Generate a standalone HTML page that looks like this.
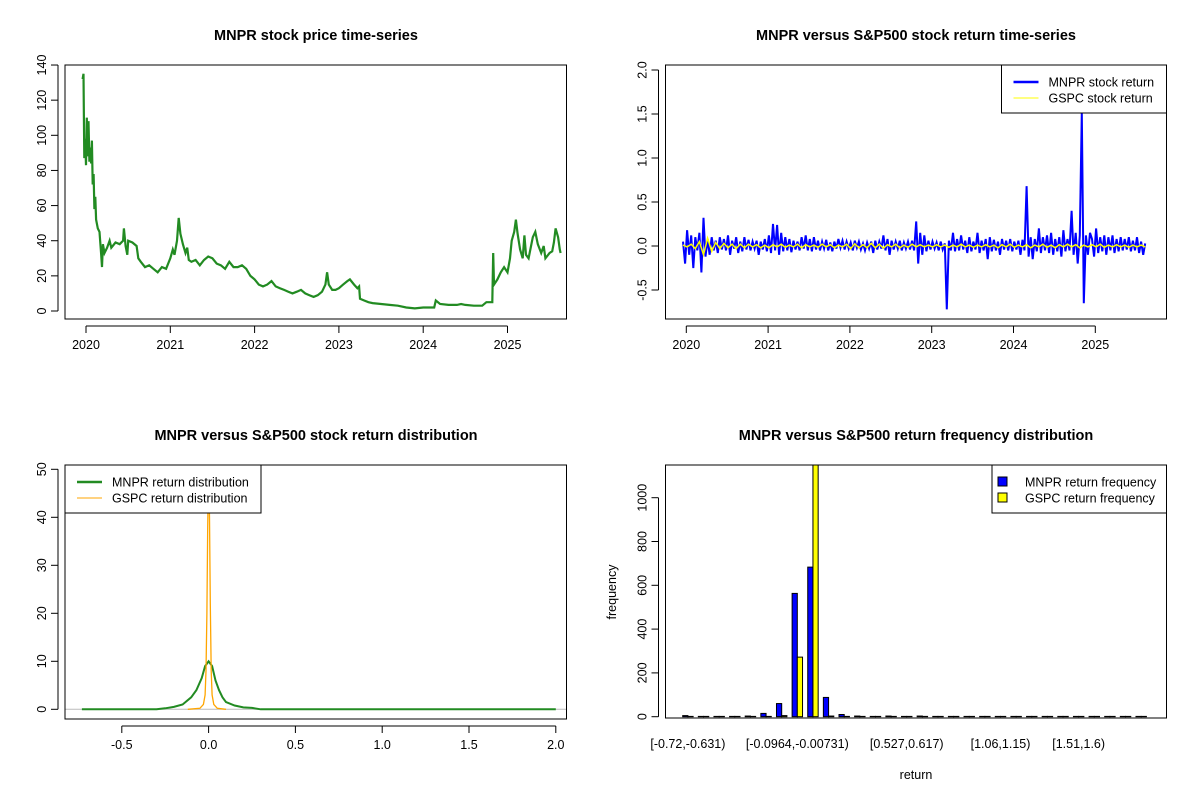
<!DOCTYPE html>
<html><head><meta charset="utf-8"><style>
html,body{margin:0;padding:0;background:#fff;}
svg{display:block;font-family:"Liberation Sans",Arial,sans-serif;}
</style></head><body>
<svg id="chart" width="1200" height="800" viewBox="0 0 1200 800">
<defs>
<clipPath id="c1"><rect x="65" y="65" width="501.5" height="254"/></clipPath>
<clipPath id="c2"><rect x="665.5" y="65" width="501" height="254"/></clipPath>
<clipPath id="c3"><rect x="65" y="465" width="501.5" height="254"/></clipPath>
<clipPath id="c4"><rect x="665.5" y="465" width="501" height="253"/></clipPath>
</defs>
</svg>
<script>
// ---------- DATA ----------
const priceT=[2019.96,2019.97,2019.975,2019.98,2019.99,2020.0,2020.01,2020.02,2020.03,2020.04,2020.05,2020.06,2020.07,2020.08,2020.09,2020.10,2020.11,2020.12,2020.14,2020.16,2020.18,2020.19,2020.20,2020.22,2020.25,2020.28,2020.30,2020.35,2020.40,2020.44,2020.45,2020.47,2020.49,2020.5,2020.55,2020.6,2020.62,2020.65,2020.7,2020.75,2020.8,2020.85,2020.9,2020.95,2021.0,2021.03,2021.05,2021.08,2021.1,2021.12,2021.15,2021.18,2021.2,2021.22,2021.25,2021.3,2021.35,2021.4,2021.45,2021.5,2021.55,2021.6,2021.65,2021.7,2021.75,2021.8,2021.85,2021.9,2021.95,2022.0,2022.05,2022.1,2022.15,2022.2,2022.25,2022.3,2022.35,2022.4,2022.45,2022.5,2022.55,2022.6,2022.65,2022.7,2022.75,2022.8,2022.84,2022.86,2022.88,2022.92,2022.96,2023.0,2023.05,2023.1,2023.13,2023.18,2023.22,2023.24,2023.25,2023.3,2023.35,2023.4,2023.5,2023.6,2023.7,2023.8,2023.9,2024.0,2024.1,2024.13,2024.15,2024.2,2024.3,2024.4,2024.45,2024.5,2024.6,2024.7,2024.75,2024.8,2024.82,2024.83,2024.84,2024.88,2024.92,2024.96,2025.0,2025.03,2025.05,2025.08,2025.1,2025.12,2025.15,2025.18,2025.2,2025.22,2025.25,2025.3,2025.33,2025.36,2025.4,2025.43,2025.45,2025.5,2025.53,2025.55,2025.57,2025.6,2025.62,2025.63];
const priceV=[132,135,110,87,98,83,110,88,108,85,93,84,97,72,78,58,65,52,47,45,32,25,38,33,36,40,36,39,38,40,47,37,32,40,39,37,30,28,25,26,24,22,25,24,30,35,32,40,53,44,38,33,36,29,28,29,26,29,31,30,27,26,24,28,25,25,26,24,20,18,15,14,15,17,14,13,12,11,10,11,12,10,9,8,9,11,15,22,15,12,12,13,15,17,18,15,13,14,7,6,5,4.5,4,3.5,3,2,1.5,2,2,2,6,4,3.5,3.5,4,3.5,3,3,5,5,5,33,15,18,22,25,22,30,40,45,52,44,35,30,43,32,30,42,45,38,33,37,30,33,34,39,47,42,35,33];
const yearTicks=[2020,2021,2022,2023,2024,2025];
const priceTicks=[0,20,40,60,80,100,120,140];

const retStart=2019.96, retStep=0.025;
const mnprRet=[0.05,-0.2,0.18,-0.1,0.12,-0.25,0.1,-0.05,0.15,-0.3,0.32,-0.12,0.08,-0.1,0.1,-0.05,0.06,-0.08,0.1,-0.04,
0.08,-0.05,0.12,-0.1,0.06,-0.03,0.1,-0.08,0.05,-0.06,0.1,-0.04,0.07,-0.05,0.05,-0.03,0.06,-0.1,0.05,-0.04,
0.08,-0.06,0.12,-0.08,0.25,-0.05,0.24,-0.1,0.15,-0.06,0.1,-0.05,0.08,-0.07,0.06,-0.04,0.05,-0.05,0.1,-0.03,
0.12,-0.05,0.08,-0.06,0.1,-0.04,0.06,-0.05,0.05,-0.03,0.07,-0.05,0.04,-0.06,0.05,-0.03,0.08,-0.02,0.06,-0.04,
0.05,-0.03,0.04,-0.05,0.06,-0.02,0.05,-0.04,0.03,-0.05,0.04,-0.03,0.05,-0.08,0.06,-0.04,0.05,-0.03,0.12,-0.05,
0.08,-0.1,0.06,-0.04,0.05,-0.03,0.06,-0.05,0.04,-0.03,0.05,-0.04,0.06,-0.05,0.28,-0.2,0.15,-0.1,0.12,-0.06,
0.06,-0.04,0.05,-0.03,0.04,-0.05,0.05,-0.04,0.03,-0.72,0.06,-0.05,0.15,-0.06,0.08,-0.05,0.12,-0.04,0.06,-0.08,
0.1,-0.06,0.05,-0.04,0.15,-0.08,0.06,-0.05,0.08,-0.15,0.1,-0.06,0.07,-0.05,0.05,-0.1,0.08,-0.04,0.06,-0.05,
0.08,-0.06,0.05,-0.04,0.06,-0.1,0.07,-0.05,0.68,-0.12,0.1,-0.15,0.08,-0.06,0.2,-0.08,0.1,-0.05,0.12,-0.08,
0.15,-0.1,0.08,-0.06,0.1,-0.12,0.18,-0.06,0.08,-0.05,0.4,-0.1,0.15,-0.2,0.12,1.52,-0.65,0.12,-0.1,0.15,
0.08,-0.12,0.2,-0.08,0.1,-0.06,0.12,-0.1,0.1,-0.05,0.12,-0.08,0.08,-0.06,0.1,-0.05,0.08,-0.04,0.1,-0.06,
0.06,-0.05,0.1,-0.08,0.05,-0.1,0.03];
const gspcStep=0.05;
const gspcRet=[0.01,-0.01,0.02,-0.03,0.05,-0.1,0.09,-0.06,0.04,-0.03,0.03,-0.02,0.02,-0.03,0.02,-0.02,0.02,-0.01,0.015,-0.02,
0.01,-0.02,0.015,-0.01,0.02,-0.015,0.01,-0.01,0.02,-0.02,0.015,-0.01,0.01,-0.015,0.02,-0.01,0.015,-0.02,0.01,-0.01,
0.02,-0.03,0.025,-0.02,0.015,-0.02,0.03,-0.02,0.02,-0.025,0.015,-0.01,0.02,-0.02,0.01,-0.015,0.02,-0.01,0.015,-0.01,
0.01,-0.01,0.015,-0.01,0.01,-0.015,0.01,-0.01,0.02,-0.01,0.01,-0.015,0.01,-0.01,0.015,-0.01,0.01,-0.02,0.015,-0.01,
0.02,-0.015,0.01,-0.01,0.015,-0.02,0.01,-0.01,0.02,-0.015,0.01,-0.02,0.015,-0.01,0.02,-0.01,0.015,-0.02,0.01,-0.01,
0.015,-0.01,0.02,-0.015,0.01,-0.01,0.015,-0.01,0.01,-0.015,0.01,-0.01,0.01,-0.01];
const retTicks=[-0.5,0,0.5,1,1.5,2];
const retTickLabels=["-0.5","0.0","0.5","1.0","1.5","2.0"];

const densMx=[-0.73,-0.3,-0.25,-0.2,-0.15,-0.1,-0.07,-0.04,-0.02,0,0.02,0.04,0.06,0.08,0.1,0.15,0.2,0.25,0.3,2.0];
const densMy=[0,0,0.2,0.5,1,2.5,4,6.5,9,10,9,6,4,2.5,1.5,0.8,0.4,0.3,0,0];
const densGx=[-0.12,-0.05,-0.03,-0.02,-0.015,-0.01,-0.005,0,0.005,0.01,0.015,0.02,0.03,0.05,0.1];
const densGy=[0,0.2,1,3,8,20,38,50,40,22,8,3,1,0.2,0];
const densXTicks=[-0.5,0,0.5,1,1.5,2];
const densXLabels=["-0.5","0.0","0.5","1.0","1.5","2.0"];
const densYTicks=[0,10,20,30,40,50];

const binCount=30;
const mnprFreq=[5,0,0,0,3,15,60,563,683,88,10,3,0,3,0,3,0,0,0,0,0,0,0,0,0,0,0,0,0,0];
const gspcFreq=[0,0,0,0,0,0,5,272,1160,3,0,0,0,0,0,0,0,0,0,0,0,0,0,0,0,0,0,0,0,0];
const binLabelIdx=[0,7,14,20,25];
const binLabels=["[-0.72,-0.631)","[-0.0964,-0.00731)","[0.527,0.617)","[1.06,1.15)","[1.51,1.6)"];
const freqTicks=[0,200,400,600,800,1000];

// ---------- AXIS FUNCTIONS ----------
const x1=t=>86+(t-2020)*84.3, y1=v=>311-v*1.757;
const x2=t=>686.3+(t-2020)*81.8, y2=v=>246-v*88;
const x3=v=>208.6+v*173.6, y3=d=>709.3-d*4.8;
const xb=v=>682.7+v*5.21, y4=c=>716.7-c*0.219;

const svg=document.getElementById('chart');
const NS='http://www.w3.org/2000/svg';
function mk(tag,attrs,parent){const e=document.createElementNS(NS,tag);for(const k in attrs)e.setAttribute(k,attrs[k]);(parent||svg).appendChild(e);return e;}
function txt(x,y,s,size,opts,parent){const e=mk('text',Object.assign({x:x,y:y,'font-size':size,'text-anchor':'middle',fill:'#000'},opts||{}),parent);e.textContent=s;return e;}

const boxes=[[65,65,566.5,319],[665.5,65,1166.5,319],[65,465,566.5,719],[665.5,465,1166.5,718]];
const titles=["MNPR stock price time-series","MNPR versus S&P500 stock return time-series","MNPR versus S&P500 stock return distribution","MNPR versus S&P500 return frequency distribution"];
const titleX=[316,916,316,916], titleY=[40,40,440,440];
for(let i=0;i<4;i++){
 let t=txt(titleX[i],titleY[i],titles[i],14.5,{'font-weight':'bold'});
 
 
}
function xAxis(ticks,labels,fx,bottom,left,right,name){
 const g=mk('g',{});
 
 
 const a=fx(ticks[0]),b=fx(ticks[ticks.length-1]);
 mk('line',{x1:a,y1:bottom+7,x2:b,y2:bottom+7,stroke:'#000','stroke-width':1},g);
 ticks.forEach((v,i)=>{const x=fx(v);mk('line',{x1:x,y1:bottom+7,x2:x,y2:bottom+14,stroke:'#000'},g);
  const l=txt(x,bottom+30,labels[i],12.5,{},g);
  
  });
}
function yAxis(ticks,labels,fy,left,name){
 const g=mk('g',{});
 
 
 const a=fy(ticks[0]),b=fy(ticks[ticks.length-1]);
 mk('line',{x1:left-7,y1:a,x2:left-7,y2:b,stroke:'#000'},g);
 ticks.forEach((v,i)=>{const y=fy(v);mk('line',{x1:left-14,y1:y,x2:left-7,y2:y,stroke:'#000'},g);
  const l=txt(left-19,y,labels[i],12.5,{transform:'rotate(-90 '+(left-19)+' '+y+')'},g);
  
  });
}
function pts(xs,ys,fx,fy){return xs.map((x,i)=>fx(x).toFixed(1)+','+fy(ys[i]).toFixed(1)).join(' ');}

// ---------- Panel 1 ----------
let p=mk('polyline',{points:pts(priceT,priceV,x1,y1),fill:'none',stroke:'#228B22','stroke-width':2.2,'clip-path':'url(#c1)'});


xAxis(yearTicks,yearTicks.map(String),x1,319,65,566,'panel-1-x-axis');
yAxis(priceTicks,priceTicks.map(String),y1,65,'panel-1-y-axis');

// ---------- Panel 2 ----------
const mT=mnprRet.map((v,i)=>retStart+i*retStep);
p=mk('polyline',{points:pts(mT,mnprRet,x2,y2),fill:'none',stroke:'#0000FF','stroke-width':2,'clip-path':'url(#c2)'});


const gT=gspcRet.map((v,i)=>retStart+i*gspcStep);
p=mk('polyline',{points:pts(gT,gspcRet,x2,y2),fill:'none',stroke:'#FFFF00','stroke-width':1.5,'clip-path':'url(#c2)'});


xAxis(yearTicks,yearTicks.map(String),x2,319,665,1166,'panel-2-x-axis');
yAxis(retTicks,retTickLabels,y2,665.5,'panel-2-y-axis');

// ---------- Panel 3 ----------
p=mk('line',{x1:65,y1:y3(0),x2:566.5,y2:y3(0),stroke:'#bbbbbb','stroke-width':1});


p=mk('polyline',{points:pts(densMx,densMy,x3,y3),fill:'none',stroke:'#228B22','stroke-width':2,'clip-path':'url(#c3)'});


p=mk('polyline',{points:pts(densGx,densGy,x3,y3),fill:'none',stroke:'#FFA500','stroke-width':1.3,'clip-path':'url(#c3)'});


xAxis(densXTicks,densXLabels,x3,719,65,566,'panel-3-x-axis');
yAxis(densYTicks,densYTicks.map(String),y3,65,'panel-3-y-axis');

// ---------- Panel 4 ----------
for(let i=0;i<binCount;i++){
 const hm=Math.max(y4(0)-y4(mnprFreq[i]),0.3), hg=Math.max(y4(0)-y4(gspcFreq[i]),0.3);
 let r=mk('rect',{x:xb(3*i),y:y4(0)-hm,width:xb(1)-xb(0),height:hm,fill:'#0000FF',stroke:'#000','stroke-width':1,'clip-path':'url(#c4)'});
 
 
 r=mk('rect',{x:xb(3*i+1),y:y4(0)-hg,width:xb(1)-xb(0),height:hg,fill:'#FFFF00',stroke:'#000','stroke-width':1,'clip-path':'url(#c4)'});
 
 
}
binLabelIdx.forEach((b,i)=>{const l=txt(xb(3*b+1),748,binLabels[i],12.5);
 
 });
yAxis(freqTicks,freqTicks.map(String),y4,665.5,'panel-4-y-axis');
let t=txt(916,779,'return',12.5);


t=txt(616,592,'frequency',12.5,{transform:'rotate(-90 616 592)'});



// ---------- legends ----------
function legend(x,y,w,h,items,name){
 const g=mk('g',{});
 
 
 mk('rect',{x:x,y:y,width:w,height:h,fill:'#fff',stroke:'#000'},g);
 items.forEach((it,i)=>{const cy=y+17+i*16;
  if(it.sq){mk('rect',{x:x+6,y:cy-5,width:9,height:9,fill:it.c,stroke:'#000'},g);}
  else mk('line',{x1:x+12,y1:cy,x2:x+37,y2:cy,stroke:it.c,'stroke-width':it.w},g);
  const l=txt(x+(it.sq?33:47),cy+4.5,it.s,12.5,{'text-anchor':'start'},g);
  
  });
}
legend(1001.5,65,165,48,[{c:'#0000FF',w:2.5,s:'MNPR stock return'},{c:'#FFFF00',w:1,s:'GSPC stock return'}],'panel-2-legend');
legend(65,465,196,48,[{c:'#228B22',w:2.5,s:'MNPR return distribution'},{c:'#FFA500',w:1,s:'GSPC return distribution'}],'panel-3-legend');
legend(992,465,174.5,48,[{c:'#0000FF',sq:1,s:'MNPR return frequency'},{c:'#FFFF00',sq:1,s:'GSPC return frequency'}],'panel-4-legend');

boxes.forEach((b,i)=>{const r=mk('rect',{x:b[0],y:b[1],width:b[2]-b[0],height:b[3]-b[1],fill:'none',stroke:'#000','stroke-width':1});
 
 });
</script>
</body></html>
